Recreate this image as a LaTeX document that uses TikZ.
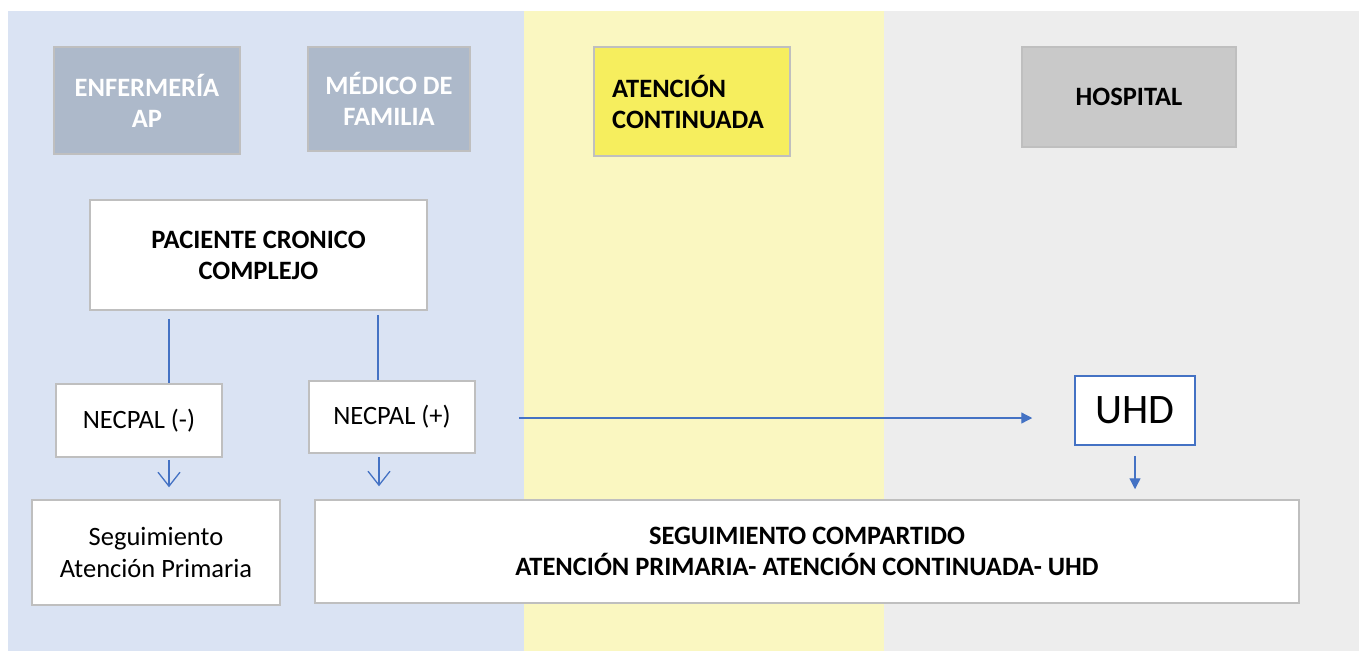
\documentclass[tikz,border=0pt]{standalone}
\usepackage{fontspec}
\setmainfont{Carlito}
\usetikzlibrary{arrows.meta}
\definecolor{bandblue}{HTML}{DAE3F3}
\definecolor{bandyellow}{HTML}{FAF7C1}
\definecolor{bandgray}{HTML}{EDEDED}
\definecolor{hdrblue}{HTML}{ADB9CA}
\definecolor{hdryellow}{HTML}{F6EE5E}
\definecolor{hdrgray}{HTML}{C9C9C9}
\definecolor{boxgray}{HTML}{BFBFBF}
\definecolor{linkblue}{HTML}{4472C4}
\begin{document}
\begin{tikzpicture}[x=1pt,y=-1pt,
  box/.style={draw=boxgray, line width=1.5pt, fill=white, inner sep=0pt, align=center,
    font=\fontsize{26.5}{31.5}\selectfont},
  hdr/.style={box, font=\fontsize{26.5}{31}\selectfont\bfseries},
  conn/.style={draw=linkblue, line width=1.3pt},
  openarrow/.style={conn, -{Straight Barb[length=14pt,width=22pt,line width=1.3pt]}},
  fullarrow/.style={conn, -{Triangle[length=11pt,width=11pt]}}]
\useasboundingbox (0,0) rectangle (1359,651);
\fill[bandblue] (8,11) rectangle (524,651);
\fill[bandyellow] (524,11) rectangle (884,651);
\fill[bandgray] (884,11) rectangle (1359,651);

\node[hdr, fill=hdrblue, text=white, minimum width=186pt, minimum height=107pt] (enf) at (147,100.5) {ENFERMERÍA\\AP};
\node[hdr, fill=hdrblue, text=white, minimum width=162pt, minimum height=104pt] (med) at (389,99) {MÉDICO DE\\FAMILIA};
\node[hdr, fill=hdryellow, minimum width=196pt, minimum height=109pt] (ac) at (692,101.5) {};
\node[font=\fontsize{26.5}{31}\selectfont\bfseries, align=left, anchor=west, inner sep=0pt] (actxt) at (612,101.5) {ATENCIÓN\\CONTINUADA};
\node[hdr, fill=hdrgray, minimum width=214pt, minimum height=100pt] (hosp) at (1129,97) {HOSPITAL};

\node[hdr, minimum width=337pt, minimum height=110pt] (pac) at (258.5,255) {PACIENTE CRONICO\\COMPLEJO};
\node[box, minimum width=166pt, minimum height=73pt] (nm) at (139,420.5) {NECPAL (-)};
\node[box, minimum width=166pt, minimum height=72pt] (np) at (392,417) {NECPAL (+)};
\node[box, draw=linkblue, minimum width=120pt, minimum height=69pt, font=\fontsize{42}{42}\selectfont] (uhd) at (1135,410.5) {UHD};
\node[box, minimum width=248pt, minimum height=105pt] (sap) at (156,552.5) {Seguimiento\\Atención Primaria};
\node[hdr, minimum width=984pt, minimum height=103pt] (sc) at (807,551.5) {SEGUIMIENTO COMPARTIDO\\ATENCIÓN PRIMARIA- ATENCIÓN CONTINUADA- UHD};

\draw[conn, shorten <=8pt] ([xshift=30pt]nm.north |- pac.south) -- ([xshift=30pt]nm.north);
\draw[conn, shorten <=4pt] ([xshift=-14pt]np.north |- pac.south) -- ([xshift=-14pt]np.north);
\draw[openarrow, shorten <=2pt, shorten >=12pt] ([xshift=30pt]nm.south) -- ([xshift=30pt]nm.south |- sap.north);
\draw[openarrow, shorten <=3pt, shorten >=13pt] ([xshift=-13pt]np.south) -- ([xshift=-13pt]np.south |- sc.north);
\draw[fullarrow, shorten <=43pt, shorten >=42pt] ([yshift=-1pt]np.east) -- ([yshift=-1pt]np.east -| uhd.west);
\draw[fullarrow, shorten <=10pt, shorten >=10pt] (uhd.south) -- (uhd.south |- sc.north);
\end{tikzpicture}
\end{document}
